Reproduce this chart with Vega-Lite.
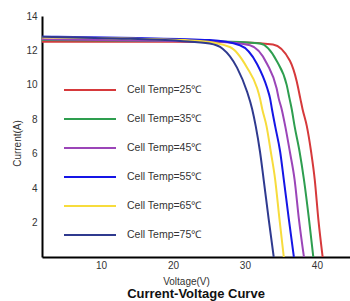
{
  "$schema": "https://vega.github.io/schema/vega-lite/v6.json",
  "width": 308,
  "height": 241,
  "autosize": {"type": "none"},
  "padding": {"left": 42, "top": 16, "right": 0, "bottom": 44},
  "background": "white",
  "config": {"view": {"stroke": null}, "font": "Liberation Sans"},
  "title": {"text": "Current-Voltage Curve", "orient": "bottom", "fontSize": 13, "fontWeight": "bold", "offset": 2, "anchor": "middle", "color": "#111"},
  "data": {"values": [
    {"t": "Cell Temp=25℃", "v": 1.8, "i": 12.5},
    {"t": "Cell Temp=25℃", "v": 20, "i": 12.5},
    {"t": "Cell Temp=25℃", "v": 29.3, "i": 12.48},
    {"t": "Cell Temp=25℃", "v": 33.9, "i": 12.35},
    {"t": "Cell Temp=25℃", "v": 36.25, "i": 11.4},
    {"t": "Cell Temp=25℃", "v": 37.2, "i": 10.2},
    {"t": "Cell Temp=25℃", "v": 37.7, "i": 9.2},
    {"t": "Cell Temp=25℃", "v": 38.0, "i": 8.6},
    {"t": "Cell Temp=25℃", "v": 38.6, "i": 7.6},
    {"t": "Cell Temp=25℃", "v": 39.2, "i": 6.1},
    {"t": "Cell Temp=25℃", "v": 39.7, "i": 4.5},
    {"t": "Cell Temp=25℃", "v": 40.2, "i": 2.2},
    {"t": "Cell Temp=25℃", "v": 40.8, "i": 0},

    {"t": "Cell Temp=35℃", "v": 1.8, "i": 12.6},
    {"t": "Cell Temp=35℃", "v": 20, "i": 12.55},
    {"t": "Cell Temp=35℃", "v": 27.9, "i": 12.5},
    {"t": "Cell Temp=35℃", "v": 32.1, "i": 12.4},
    {"t": "Cell Temp=35℃", "v": 34.4, "i": 11.4},
    {"t": "Cell Temp=35℃", "v": 35.8, "i": 10.0},
    {"t": "Cell Temp=35℃", "v": 36.2, "i": 9.2},
    {"t": "Cell Temp=35℃", "v": 36.5, "i": 8.6},
    {"t": "Cell Temp=35℃", "v": 36.9, "i": 7.6},
    {"t": "Cell Temp=35℃", "v": 37.6, "i": 6.1},
    {"t": "Cell Temp=35℃", "v": 38.2, "i": 4.5},
    {"t": "Cell Temp=35℃", "v": 38.9, "i": 2.2},
    {"t": "Cell Temp=35℃", "v": 39.5, "i": 0},

    {"t": "Cell Temp=45℃", "v": 1.8, "i": 12.65},
    {"t": "Cell Temp=45℃", "v": 20, "i": 12.55},
    {"t": "Cell Temp=45℃", "v": 26.5, "i": 12.5},
    {"t": "Cell Temp=45℃", "v": 30.7, "i": 12.3},
    {"t": "Cell Temp=45℃", "v": 33.1, "i": 11.2},
    {"t": "Cell Temp=45℃", "v": 34.4, "i": 9.8},
    {"t": "Cell Temp=45℃", "v": 34.7, "i": 9.2},
    {"t": "Cell Temp=45℃", "v": 35.1, "i": 8.6},
    {"t": "Cell Temp=45℃", "v": 35.6, "i": 7.6},
    {"t": "Cell Temp=45℃", "v": 36.25, "i": 6.1},
    {"t": "Cell Temp=45℃", "v": 36.9, "i": 4.5},
    {"t": "Cell Temp=45℃", "v": 37.5, "i": 2.2},
    {"t": "Cell Temp=45℃", "v": 38.2, "i": 0},

    {"t": "Cell Temp=55℃", "v": 1.8, "i": 12.8},
    {"t": "Cell Temp=55℃", "v": 15, "i": 12.72},
    {"t": "Cell Temp=55℃", "v": 25.1, "i": 12.6},
    {"t": "Cell Temp=55℃", "v": 29.3, "i": 12.3},
    {"t": "Cell Temp=55℃", "v": 31.7, "i": 11.2},
    {"t": "Cell Temp=55℃", "v": 33.1, "i": 9.8},
    {"t": "Cell Temp=55℃", "v": 33.5, "i": 9.2},
    {"t": "Cell Temp=55℃", "v": 33.75, "i": 8.6},
    {"t": "Cell Temp=55℃", "v": 34.2, "i": 7.6},
    {"t": "Cell Temp=55℃", "v": 34.9, "i": 6.1},
    {"t": "Cell Temp=55℃", "v": 35.4, "i": 4.5},
    {"t": "Cell Temp=55℃", "v": 36.1, "i": 2.2},
    {"t": "Cell Temp=55℃", "v": 36.8, "i": 0},

    {"t": "Cell Temp=65℃", "v": 1.8, "i": 12.75},
    {"t": "Cell Temp=65℃", "v": 15, "i": 12.68},
    {"t": "Cell Temp=65℃", "v": 23.75, "i": 12.55},
    {"t": "Cell Temp=65℃", "v": 27.9, "i": 12.2},
    {"t": "Cell Temp=65℃", "v": 30.3, "i": 11.0},
    {"t": "Cell Temp=65℃", "v": 31.7, "i": 9.8},
    {"t": "Cell Temp=65℃", "v": 32.1, "i": 9.2},
    {"t": "Cell Temp=65℃", "v": 32.4, "i": 8.6},
    {"t": "Cell Temp=65℃", "v": 33.0, "i": 7.6},
    {"t": "Cell Temp=65℃", "v": 33.6, "i": 6.1},
    {"t": "Cell Temp=65℃", "v": 34.2, "i": 4.5},
    {"t": "Cell Temp=65℃", "v": 34.8, "i": 2.2},
    {"t": "Cell Temp=65℃", "v": 35.4, "i": 0},

    {"t": "Cell Temp=75℃", "v": 1.8, "i": 12.8},
    {"t": "Cell Temp=75℃", "v": 12, "i": 12.7},
    {"t": "Cell Temp=75℃", "v": 21.0, "i": 12.55},
    {"t": "Cell Temp=75℃", "v": 25.1, "i": 12.4},
    {"t": "Cell Temp=75℃", "v": 26.9, "i": 12.1},
    {"t": "Cell Temp=75℃", "v": 28.9, "i": 11.0},
    {"t": "Cell Temp=75℃", "v": 30.3, "i": 9.6},
    {"t": "Cell Temp=75℃", "v": 31.0, "i": 8.6},
    {"t": "Cell Temp=75℃", "v": 31.5, "i": 7.6},
    {"t": "Cell Temp=75℃", "v": 32.1, "i": 6.1},
    {"t": "Cell Temp=75℃", "v": 32.6, "i": 4.5},
    {"t": "Cell Temp=75℃", "v": 33.3, "i": 2.2},
    {"t": "Cell Temp=75℃", "v": 34.0, "i": 0}
  ]},
  "mark": {"type": "line", "strokeWidth": 2, "interpolate": "monotone", "clip": true},
  "encoding": {
    "x": {"field": "v", "type": "quantitative",
      "scale": {"domain": [1.8, 44.6], "nice": false, "zero": false},
      "axis": {"title": "Voltage(V)", "values": [10, 20, 30, 40], "grid": false, "ticks": false,
        "domainColor": "#000", "domainWidth": 2, "labelFontSize": 10, "labelColor": "#333", "labelPadding": 3,
        "titleFontSize": 10, "titleFontWeight": "normal", "titleColor": "#333", "titlePadding": 6, "titleX": 144}},
    "y": {"field": "i", "type": "quantitative",
      "scale": {"domain": [0, 14], "nice": false},
      "axis": {"title": "Current(A)", "values": [2, 4, 6, 8, 10, 12, 14], "grid": false, "ticks": false,
        "domainColor": "#000", "domainWidth": 2, "labelFontSize": 10, "labelColor": "#333", "labelPadding": 5,
        "titleFontSize": 10, "titleFontWeight": "normal", "titleColor": "#333", "titlePadding": 3, "titleY": 127}},
    "color": {"field": "t", "type": "nominal",
      "scale": {"domain": ["Cell Temp=25℃", "Cell Temp=35℃", "Cell Temp=45℃", "Cell Temp=55℃", "Cell Temp=65℃", "Cell Temp=75℃"],
        "range": ["#d6393b", "#2e9e4f", "#9b45b8", "#1515e6", "#f7dc3c", "#2f3a8f"]},
      "legend": {"title": null, "orient": "none", "legendX": 21, "legendY": 67, "padding": 0,
        "symbolType": "stroke", "symbolSize": 2704, "symbolStrokeWidth": 2, "clipHeight": 14, "rowPadding": 15,
        "labelOffset": 10, "labelFontSize": 10.5, "labelColor": "#333"}}
  }
}
